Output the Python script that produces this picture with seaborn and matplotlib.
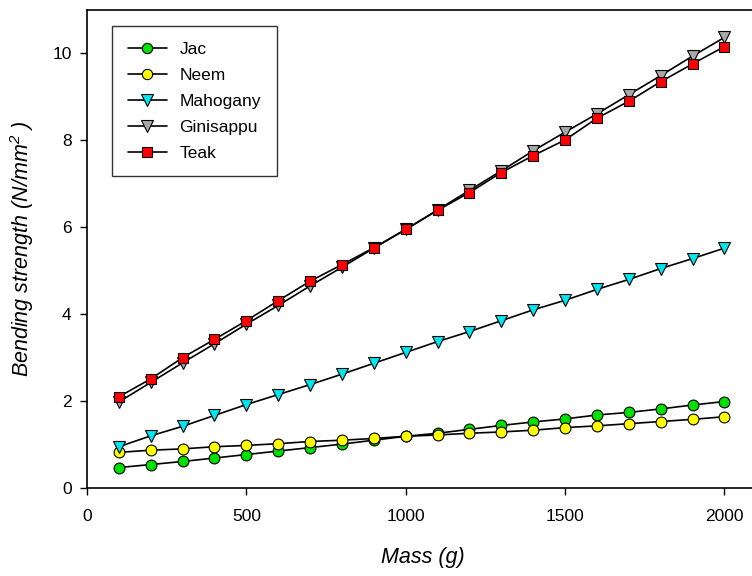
import matplotlib
matplotlib.use("Agg")
import matplotlib.pyplot as plt
import seaborn as sns
import pandas as pd

# mass values (g)
mass = [100, 200, 300, 400, 500, 600, 700, 800, 900, 1000,
        1100, 1200, 1300, 1400, 1500, 1600, 1700, 1800, 1900, 2000]

# bending strength (N/mm2)
jac = [0.47, 0.54, 0.61, 0.69, 0.77, 0.85, 0.93, 1.01, 1.10, 1.19,
       1.26, 1.35, 1.44, 1.52, 1.59, 1.68, 1.74, 1.82, 1.91, 1.99]
neem = [0.82, 0.87, 0.90, 0.95, 0.98, 1.02, 1.07, 1.10, 1.14, 1.19,
        1.22, 1.26, 1.29, 1.33, 1.39, 1.43, 1.48, 1.53, 1.58, 1.64]
mahogany = [0.95, 1.20, 1.42, 1.67, 1.92, 2.15, 2.38, 2.62, 2.87, 3.12,
            3.37, 3.60, 3.85, 4.10, 4.32, 4.57, 4.80, 5.05, 5.28, 5.52]
ginisappu = [1.98, 2.43, 2.88, 3.32, 3.77, 4.20, 4.65, 5.08, 5.52, 5.95,
             6.40, 6.85, 7.30, 7.76, 8.19, 8.61, 9.05, 9.49, 9.94, 10.37]
teak = [2.10, 2.51, 3.00, 3.42, 3.85, 4.31, 4.76, 5.14, 5.53, 5.95,
        6.39, 6.80, 7.26, 7.65, 8.01, 8.51, 8.90, 9.35, 9.76, 10.16]

names = ["Jac", "Neem", "Mahogany", "Ginisappu", "Teak"]
series = [jac, neem, mahogany, ginisappu, teak]
face_colors = ["#00e000", "#ffff00", "#00e5ee", "#a8a8a8", "#ff0000"]
markers = ["o", "o", "v", "v", "s"]
marker_sizes = [7.8, 7.8, 8.6, 8.6, 7.2]

sns.set_theme(style="ticks")
plt.rcParams["font.family"] = ["Liberation Sans", "DejaVu Sans"]
plt.rcParams["mathtext.default"] = "regular"
plt.rcParams["text.color"] = "black"
plt.rcParams["axes.labelcolor"] = "black"

fig = plt.figure(figsize=(7.52, 5.76), dpi=100)
ax = fig.add_axes([87 / 752, 88 / 576, 1 - 87 / 752 + 0.01, (488 - 10) / 576])

for name, vals, fc, mk, ms in zip(names, series, face_colors, markers, marker_sizes):
    df = pd.DataFrame({"mass": mass, "strength": vals})
    sns.lineplot(data=df, x="mass", y="strength", ax=ax, color="black",
                 linewidth=1.2, marker=mk, markersize=ms,
                 markerfacecolor=fc, markeredgecolor="black",
                 markeredgewidth=0.8, label=name)

ax.set_xlim(0, 2110)
ax.set_ylim(0, 11)
ax.set_xticks([0, 500, 1000, 1500, 2000])
ax.set_yticks([0, 2, 4, 6, 8, 10])
ax.tick_params(direction="out", length=5, width=1, labelsize=12.5,
               colors="black")
ax.tick_params(axis="x", pad=10)
ax.tick_params(axis="y", pad=6)
for s in ["left", "bottom", "top"]:
    ax.spines[s].set_color("black")
    ax.spines[s].set_linewidth(1.2)
ax.spines["right"].set_visible(False)

ax.set_xlabel("Mass (g)", fontsize=15.5, style="italic", labelpad=17)
ax.set_ylabel("Bending strength (N/mm$^{2}$ )", fontsize=15.5,
              style="italic", labelpad=12)

leg = ax.legend(loc="upper left", bbox_to_anchor=(0.037, 0.966), fontsize=12.5,
                frameon=True, fancybox=False, edgecolor="black",
                handlelength=2.3, labelspacing=0.62, borderpad=0.9,
                handletextpad=0.7, borderaxespad=0, markerscale=0.95)
leg.get_frame().set_linewidth(1.0)

fig.savefig("out.png", dpi=100)
